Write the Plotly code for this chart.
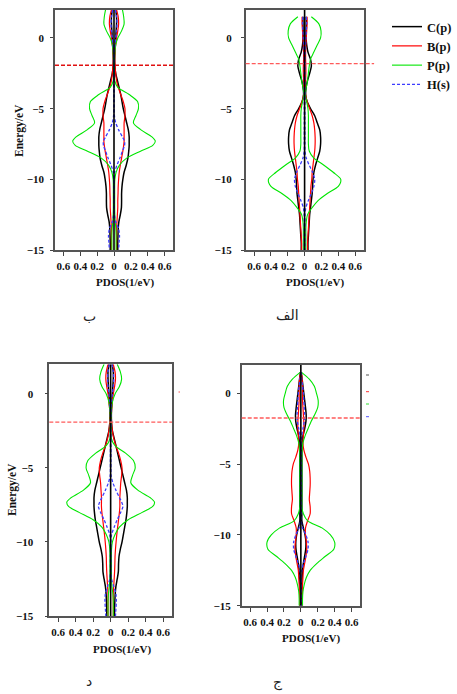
import plotly.graph_objects as go

# Energy grids (eV)
ENERGY_A = [2.0, 1.5, 1.0, 0.5, 0.0, -0.5, -1.0, -1.5, -2.0, -2.5, -3.0, -3.5, -4.0, -4.5,
            -5.0, -5.5, -6.0, -6.5, -7.0, -7.3, -7.6, -8.0, -8.5, -9.0, -9.5, -10.0, -10.5,
            -11.0, -11.5, -12.0, -12.5, -13.0, -13.5, -14.0, -14.5, -15.0]
ENERGY_B = [1.5, 1.0, 0.5, 0.0, -0.5, -1.0, -1.5, -2.0, -2.5, -3.0, -3.5, -4.0, -4.5, -5.0,
            -5.5, -6.0, -6.5, -7.0, -7.5, -8.0, -8.5, -9.0, -9.5, -10.0, -10.5, -11.0, -11.5,
            -12.0, -12.5, -13.0, -13.5, -14.0, -14.5, -15.0]

# Panel "ب" (PDOS, 1/eV)
BA_C = [0.02, 0.03, 0.03, 0.025, 0.02, 0.015, 0.01, 0.008, 0.01, 0.02, 0.04, 0.06, 0.08, 0.095,
        0.11, 0.13, 0.15, 0.17, 0.18, 0.18, 0.18, 0.175, 0.165, 0.145, 0.12, 0.105, 0.095,
        0.09, 0.09, 0.088, 0.075, 0.058, 0.05, 0.047, 0.045, 0.045]
BA_B = [0.03, 0.05, 0.055, 0.045, 0.03, 0.02, 0.012, 0.008, 0.012, 0.02, 0.03, 0.05, 0.08, 0.11,
        0.13, 0.13, 0.12, 0.12, 0.12, 0.12, 0.115, 0.105, 0.09, 0.075, 0.062, 0.055, 0.05,
        0.048, 0.045, 0.045, 0.04, 0.035, 0.03, 0.03, 0.03, 0.03]
BA_P = [0.10, 0.115, 0.12, 0.09, 0.045, 0.02, 0.01, 0.006, 0.005, 0.005, 0.008, 0.045, 0.18, 0.28,
        0.29, 0.26, 0.23, 0.32, 0.45, 0.49, 0.46, 0.32, 0.15, 0.065, 0.025, 0.01, 0.008,
        0.008, 0.008, 0.008, 0.01, 0.015, 0.022, 0.025, 0.025, 0.025]
BA_H = [0.015, 0.03, 0.035, 0.03, 0.02, 0.01, 0.005, 0.003, 0.003, 0.003, 0.003, 0.003, 0.003, 0.003,
        0.003, 0.005, 0.02, 0.055, 0.1, 0.125, 0.125, 0.1, 0.07, 0.035, 0.008, 0.003, 0.003,
        0.003, 0.003, 0.003, 0.005, 0.02, 0.055, 0.065, 0.06, 0.055]

# Panel "الف"
ALEF_C = [0.02, 0.02, 0.018, 0.018, 0.025, 0.04, 0.07, 0.08, 0.06, 0.035, 0.018, 0.012, 0.03, 0.07,
          0.12, 0.15, 0.18, 0.19, 0.19, 0.18, 0.155, 0.13, 0.11, 0.1, 0.095, 0.09, 0.08,
          0.07, 0.06, 0.055, 0.05, 0.045, 0.04, 0.04]
ALEF_B = [0.03, 0.03, 0.025, 0.02, 0.015, 0.012, 0.012, 0.015, 0.015, 0.012, 0.01, 0.012, 0.03, 0.06,
          0.09, 0.11, 0.12, 0.125, 0.125, 0.12, 0.11, 0.1, 0.09, 0.085, 0.075, 0.07, 0.065,
          0.06, 0.055, 0.05, 0.045, 0.04, 0.035, 0.035]
ALEF_P = [0.08, 0.17, 0.195, 0.19, 0.15, 0.11, 0.07, 0.055, 0.045, 0.035, 0.02, 0.008, 0.025, 0.04,
          0.045, 0.045, 0.045, 0.045, 0.045, 0.055, 0.11, 0.23, 0.34, 0.43, 0.40, 0.27, 0.16,
          0.09, 0.035, 0.02, 0.015, 0.015, 0.015, 0.015]
ALEF_H = [0.02, 0.025, 0.02, 0.015, 0.01, 0.006, 0.004, 0.004, 0.004, 0.004, 0.004, 0.004, 0.004, 0.004,
          0.004, 0.004, 0.004, 0.004, 0.004, 0.004, 0.02, 0.055, 0.095, 0.12, 0.11, 0.08, 0.045,
          0.015, 0.005, 0.004, 0.004, 0.004, 0.004, 0.004]

# Panel "د"
DAL_C = [0.02, 0.03, 0.03, 0.025, 0.02, 0.015, 0.01, 0.008, 0.01, 0.02, 0.04, 0.06, 0.08, 0.1,
         0.12, 0.14, 0.16, 0.18, 0.19, 0.19, 0.19, 0.185, 0.175, 0.16, 0.145, 0.13, 0.11,
         0.095, 0.09, 0.088, 0.075, 0.06, 0.052, 0.048, 0.045, 0.045]
DAL_B = [0.03, 0.05, 0.055, 0.045, 0.03, 0.02, 0.012, 0.008, 0.012, 0.02, 0.035, 0.06, 0.09, 0.115,
         0.13, 0.125, 0.115, 0.11, 0.105, 0.105, 0.105, 0.1, 0.09, 0.08, 0.07, 0.062, 0.055,
         0.05, 0.048, 0.045, 0.04, 0.035, 0.03, 0.03, 0.03, 0.03]
DAL_P = [0.075, 0.11, 0.125, 0.1, 0.05, 0.022, 0.01, 0.006, 0.005, 0.005, 0.008, 0.05, 0.17, 0.26,
         0.28, 0.25, 0.23, 0.31, 0.45, 0.50, 0.48, 0.36, 0.2, 0.1, 0.05, 0.02, 0.01,
         0.008, 0.008, 0.008, 0.01, 0.015, 0.025, 0.03, 0.03, 0.03]
DAL_H = [0.015, 0.03, 0.035, 0.03, 0.02, 0.01, 0.005, 0.003, 0.003, 0.003, 0.003, 0.003, 0.003, 0.003,
         0.003, 0.005, 0.025, 0.06, 0.1, 0.125, 0.14, 0.115, 0.075, 0.04, 0.01, 0.003, 0.003,
         0.003, 0.003, 0.003, 0.01, 0.035, 0.06, 0.065, 0.06, 0.055]

# Panel "ج"
JIM_C = [0.005, 0.015, 0.025, 0.035, 0.045, 0.055, 0.063, 0.06, 0.045, 0.025, 0.015, 0.012, 0.012, 0.012,
         0.012, 0.012, 0.012, 0.012, 0.012, 0.012, 0.012, 0.012, 0.03, 0.05, 0.06, 0.058, 0.045,
         0.03, 0.02, 0.015, 0.012, 0.012, 0.012, 0.012]
JIM_B = [0.005, 0.015, 0.02, 0.02, 0.02, 0.025, 0.03, 0.035, 0.035, 0.03, 0.025, 0.035, 0.06, 0.09,
         0.105, 0.11, 0.11, 0.105, 0.1, 0.11, 0.11, 0.08, 0.055, 0.055, 0.065, 0.07, 0.06,
         0.045, 0.03, 0.025, 0.02, 0.015, 0.015, 0.015]
JIM_P = [0.005, 0.1, 0.16, 0.185, 0.205, 0.2, 0.165, 0.12, 0.085, 0.05, 0.025, 0.015, 0.012, 0.012,
         0.012, 0.012, 0.012, 0.012, 0.012, 0.012, 0.03, 0.08, 0.25, 0.35, 0.40, 0.39, 0.29,
         0.19, 0.11, 0.065, 0.04, 0.025, 0.02, 0.02]
JIM_H = [0.003, 0.01, 0.02, 0.03, 0.035, 0.04, 0.045, 0.04, 0.025, 0.01, 0.004, 0.004, 0.004, 0.004,
         0.004, 0.004, 0.004, 0.004, 0.004, 0.004, 0.004, 0.004, 0.02, 0.06, 0.085, 0.085, 0.06,
         0.03, 0.01, 0.005, 0.004, 0.004, 0.004, 0.004]

# Fermi levels (eV) per panel
FERMI = [-1.93, -1.82, -1.91, -1.74]
PANEL_LABELS = ["ب", "الف", "د", "ج"]

SPECIES = ["C(p)", "B(p)", "P(p)", "H(s)"]
X_TICKVALS = [-0.6, -0.4, -0.2, 0, 0.2, 0.4, 0.6]
X_TICKTEXT = ["0.6", "0.4", "0.2", "0", "0.2", "0.4", "0.6"]
Y_TICKVALS = [0, -5, -10, -15]

W, H = 457, 694
SERIF = "Liberation Serif"

STYLES = {
    "C(p)": dict(color="#000000", width=1.5, dash="solid"),
    "B(p)": dict(color="#ff0000", width=1.2, dash="solid"),
    "P(p)": dict(color="#00e600", width=1.1, dash="solid"),
    "H(s)": dict(color="#3c3cff", width=1.3, dash="3px,2px"),
}

panels = [
    dict(energy=ENERGY_A, data=[BA_C, BA_B, BA_P, BA_H],
         box=(55, 9.7, 173, 250), ystand=4, fermi_color="#e01010", fermi_ext=1.0,
         xtitle=(125, 283), ytitle=(19, 131)),
    dict(energy=ENERGY_B, data=[ALEF_C, ALEF_B, ALEF_P, ALEF_H],
         box=(245.7, 9.7, 363.5, 250), ystand=7, fermi_color="#ff5a5a", fermi_ext=1.09,
         xtitle=(315, 283), ytitle=None),
    dict(energy=ENERGY_A, data=[DAL_C, DAL_B, DAL_P, DAL_H],
         box=(49.3, 364.3, 172, 616), ystand=9, fermi_color="#ff5a5a", fermi_ext=1.0,
         xtitle=(122, 649), ytitle=(13, 490)),
    dict(energy=ENERGY_B, data=[JIM_C, JIM_B, JIM_P, JIM_H],
         box=(241.7, 365, 360, 605.8), ystand=4, fermi_color="#ff5a5a", fermi_ext=1.0,
         xtitle=(311, 638), ytitle=None),
]
LABEL_POS = [(89, 316), (287, 315), (89, 681), (278, 682)]

fig = go.Figure()
layout = dict(width=W, height=H, margin=dict(l=0, r=0, t=0, b=0, autoexpand=False),
              paper_bgcolor="white", plot_bgcolor="white", showlegend=True)
shapes, annotations = [], []

for i, p in enumerate(panels):
    k = "" if i == 0 else str(i + 1)
    xa, ya = "x" + k, "y" + k
    x0, y0, x1, y1 = p["box"]
    layout["xaxis" + k] = dict(
        domain=[x0 / W, x1 / W], anchor=ya, range=[-0.7, 0.7],
        tickvals=X_TICKVALS, ticktext=X_TICKTEXT, ticks="outside", ticklen=4,
        tickcolor="#444", showline=True, mirror=True, linecolor="#555", linewidth=1.5,
        showgrid=False, zeroline=False, ticklabelstandoff=1,
        tickfont=dict(family=SERIF, size=11, color="#111", weight="bold"))
    layout["yaxis" + k] = dict(
        domain=[1 - y1 / H, 1 - y0 / H], anchor=xa, side="left", range=[-15, 2],
        tickvals=Y_TICKVALS, ticks="outside", ticklen=3, tickcolor="#444",
        showline=True, mirror=True, linecolor="#555", linewidth=1.5,
        showgrid=False, zeroline=False, ticklabelstandoff=p["ystand"],
        tickfont=dict(family=SERIF, size=11, color="#111", weight="bold"))

    E = p["energy"]
    for name, vals in zip(SPECIES, p["data"]):
        st = STYLES[name]
        xs = [-v for v in vals] + [None] + list(vals)
        ys = list(E) + [None] + list(E)
        fig.add_trace(go.Scatter(
            x=xs, y=ys, xaxis=xa, yaxis=ya, mode="lines", name=name,
            line=dict(color=st["color"], width=st["width"], dash=st["dash"],
                      shape="spline", smoothing=0.8),
            showlegend=(i == 0), legendgroup=name, hoverinfo="skip"))

    # zero axis line through PDOS = 0
    fig.add_trace(go.Scatter(x=[0, 0], y=[-15, 2], xaxis=xa, yaxis=ya, mode="lines",
                             line=dict(color="#000", width=1.6), showlegend=False,
                             hoverinfo="skip"))
    # Fermi level
    shapes.append(dict(type="line", xref=xa + " domain", yref=ya, x0=0, x1=p["fermi_ext"],
                       y0=FERMI[i], y1=FERMI[i],
                       line=dict(color=p["fermi_color"], width=1.3, dash="4px,2px")))

    xt = p["xtitle"]
    annotations.append(dict(text="PDOS(1/eV)", xref="paper", yref="paper",
                            x=xt[0] / W, y=1 - xt[1] / H, showarrow=False,
                            xanchor="center", yanchor="middle",
                            font=dict(family=SERIF, size=11, color="#111", weight="bold")))
    if p["ytitle"]:
        yt = p["ytitle"]
        annotations.append(dict(text="Energy/eV", xref="paper", yref="paper",
                                x=yt[0] / W, y=1 - yt[1] / H, showarrow=False, textangle=-90,
                                xanchor="center", yanchor="middle",
                                font=dict(family=SERIF, size=11.5, color="#111", weight="bold")))
    lx, ly = LABEL_POS[i]
    annotations.append(dict(text=PANEL_LABELS[i], xref="paper", yref="paper",
                            x=lx / W, y=1 - ly / H, showarrow=False,
                            xanchor="center", yanchor="middle",
                            font=dict(family="DejaVu Sans", size=14, color="#222")))

# small swatch remnants beside the lower-right panel
for yy, col in zip([375, 391.7, 404, 416.7], ["#555", "#ff3333", "#33dd33", "#5555ff"]):
    shapes.append(dict(type="line", xref="paper", yref="paper", x0=366 / W, x1=369 / W,
                       y0=1 - yy / H, y1=1 - yy / H, line=dict(color=col, width=1)))
shapes.append(dict(type="line", xref="paper", yref="paper", x0=178.5 / W, x1=180 / W,
                   y0=1 - 392 / H, y1=1 - 392 / H, line=dict(color="#ff5555", width=1)))

layout["shapes"] = shapes
layout["annotations"] = annotations
layout["legend"] = dict(x=1.0, y=1 - 12 / H, xanchor="right", yanchor="top",
                        bgcolor="rgba(0,0,0,0)", itemwidth=30, tracegroupgap=0,
                        font=dict(family=SERIF, size=12.5, color="#111", weight="bold"))
fig.update_layout(**layout)
fig.write_html("out.html")
